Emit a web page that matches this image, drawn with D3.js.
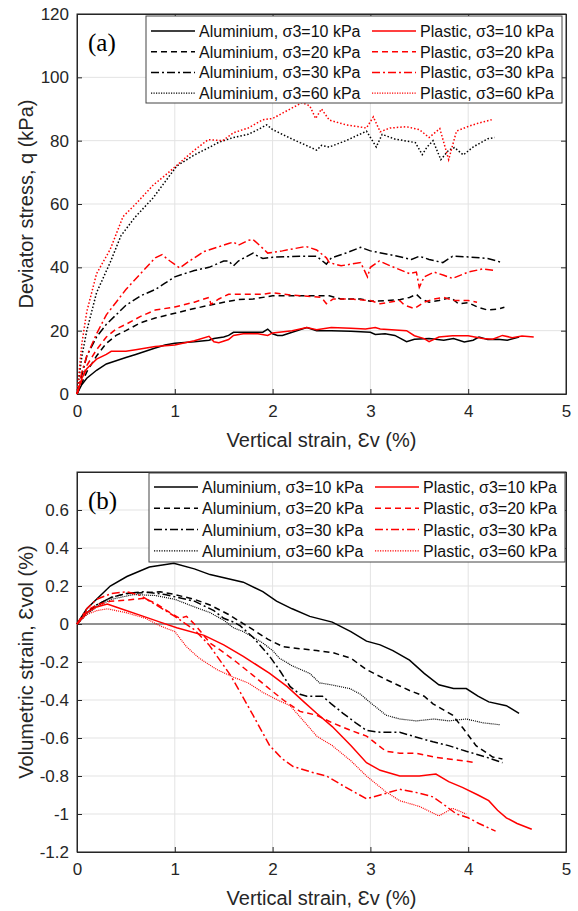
<!DOCTYPE html>
<html>
<head>
<meta charset="utf-8">
<script src="https://cdn.jsdelivr.net/npm/d3@7"></script>
<style>
body{margin:0;background:#fff}
svg{display:block}
</style>
</head>
<body>
<div id="chart"></div>
<script>
// ---- data: [vertical strain %, value] ----
const alu10q = [[0,0],[0.05,3],[0.1,5],[0.2,7.5],[0.3,9.5],[0.4,10.5],[0.5,11.5],[0.6,12.5],[0.8,14.5],[0.9,15.5],[1.0,16],[1.2,16.5],[1.35,17],[1.4,17.5],[1.5,18],[1.55,18.5],[1.6,19.5],[1.8,19.5],[1.9,19.5],[1.95,20.5],[2.0,19],[2.05,18.5],[2.1,18.5],[2.2,19.5],[2.35,21],[2.45,20],[2.6,20],[2.8,19.8],[3.0,19.5],[3.05,18.8],[3.15,19],[3.25,18.5],[3.37,16.5],[3.45,17.3],[3.6,17.5],[3.75,17],[3.85,17.5],[3.96,16.4],[4.05,17],[4.11,18],[4.2,17.2],[4.3,17.3],[4.4,17],[4.52,18]]
const alu20q = [[0,0],[0.1,7],[0.2,12],[0.3,16],[0.4,18.5],[0.5,20],[0.65,22.5],[0.8,24],[1.0,25.5],[1.2,27],[1.35,28],[1.5,29],[1.65,29.8],[1.8,30],[2.0,31],[2.2,31],[2.4,31],[2.58,31],[2.7,30],[2.9,30],[3.0,29.3],[3.15,29.5],[3.3,29.8],[3.4,30.5],[3.47,31.5],[3.52,30],[3.6,29],[3.7,29.5],[3.82,30.5],[3.9,28.5],[4.0,28.8],[4.1,27.4],[4.2,26.5],[4.3,26.8],[4.37,27.4]]
const alu30q = [[0,0],[0.05,6],[0.1,12],[0.2,18],[0.3,22],[0.4,25],[0.5,28],[0.65,31],[0.8,33],[0.9,35],[1.0,37],[1.2,39],[1.35,40],[1.5,42],[1.55,42],[1.6,40.5],[1.65,42],[1.8,44.5],[1.85,43.5],[1.9,42.8],[2.0,43.2],[2.3,43.5],[2.45,43.5],[2.55,41],[2.6,43],[2.75,44.5],[2.9,46.3],[3.0,45.2],[3.2,44],[3.42,42.5],[3.5,43.5],[3.6,42.5],[3.74,41.5],[3.84,43.5],[4.0,43.3],[4.2,42.8],[4.35,41.5]]
const alu60q = [[0,0],[0.05,12],[0.1,20],[0.2,32],[0.34,41.6],[0.45,50],[0.59,55.7],[0.78,62],[0.9,67],[1.02,72],[1.2,75.5],[1.36,78],[1.45,79.5],[1.6,81],[1.75,82],[1.85,83.5],[1.94,85],[2.0,83.5],[2.2,80.5],[2.38,78],[2.45,77],[2.5,78.5],[2.58,78],[2.75,80],[2.96,83],[3.0,81],[3.06,78],[3.12,82],[3.25,80.5],[3.46,79.4],[3.53,75.6],[3.58,78],[3.64,80],[3.72,74],[3.8,77],[3.86,77.8],[3.95,75.5],[4.05,78],[4.2,80.6],[4.27,81]]
const pl10q = [[0,0],[0.05,5],[0.1,8],[0.2,11],[0.3,12.5],[0.35,13.5],[0.5,13.5],[0.6,14],[0.8,15],[1.0,15.5],[1.2,16.8],[1.35,18.2],[1.4,16.5],[1.45,16.2],[1.55,17.2],[1.6,18.5],[1.7,19],[1.85,19],[1.95,18.5],[2.0,19.3],[2.2,20],[2.35,21],[2.45,20.3],[2.6,21],[2.8,20.8],[2.95,20.5],[3.05,21],[3.1,20.5],[3.37,20],[3.45,18.4],[3.55,17.5],[3.6,16.5],[3.7,18],[3.84,18.4],[4.0,18.4],[4.15,17.5],[4.25,17.3],[4.35,18.5],[4.45,17.8],[4.55,18.3],[4.67,18]]
const pl20q = [[0,0],[0.1,9],[0.2,14],[0.3,18],[0.4,20.5],[0.5,22],[0.65,24.5],[0.8,26.5],[1.0,27.5],[1.2,29],[1.35,30.5],[1.37,28.3],[1.45,30],[1.55,31.5],[1.7,31.5],[1.9,31.5],[2.0,32],[2.2,31.2],[2.4,30.8],[2.5,30.5],[2.55,28.5],[2.62,30],[2.8,30],[3.0,29.5],[3.1,28.5],[3.3,29.5],[3.35,28],[3.45,27],[3.55,29],[3.65,30],[3.75,30.5],[3.85,29.5],[4.0,29.5],[4.09,29]]
const pl30q = [[0,0],[0.05,7],[0.1,12],[0.2,19],[0.3,25],[0.4,29],[0.5,33],[0.65,38],[0.8,43],[0.87,44],[0.95,42],[1.05,39.8],[1.15,42],[1.3,45],[1.45,46.5],[1.55,47.5],[1.6,48],[1.65,47],[1.75,48.5],[1.8,48.8],[1.9,46],[1.95,44.5],[2.1,45.2],[2.34,46.6],[2.45,45.5],[2.55,43],[2.58,41.5],[2.7,40.5],[2.9,41.5],[2.97,37],[3.0,40],[3.09,42],[3.2,40.5],[3.4,38],[3.47,38.5],[3.5,33.7],[3.55,37],[3.65,38.5],[3.75,37.5],[3.84,36.5],[4.0,38.5],[4.15,39.5],[4.27,39]]
const pl60q = [[0,0],[0.05,16],[0.1,26],[0.2,38],[0.34,45.7],[0.47,56],[0.6,60],[0.78,66],[0.9,69],[1.05,73],[1.2,77],[1.34,80.3],[1.49,80],[1.6,82.5],[1.75,84],[1.9,86.6],[2.0,87],[2.15,89.5],[2.3,92],[2.38,91],[2.44,87],[2.5,90],[2.58,86.5],[2.75,85],[2.96,84],[3.03,87.5],[3.1,82.8],[3.2,84],[3.37,84.4],[3.5,83.5],[3.6,81],[3.71,83.8],[3.8,74],[3.88,83],[4.0,84.5],[4.1,85.5],[4.24,86.6]]

const alu10v = [[0,0],[0.1,0.08],[0.2,0.13],[0.34,0.2],[0.51,0.25],[0.74,0.3],[0.99,0.32],[1.2,0.29],[1.36,0.26],[1.7,0.22],[1.9,0.17],[2.04,0.12],[2.2,0.08],[2.38,0.04],[2.61,0.01],[2.8,-0.04],[2.96,-0.09],[3.1,-0.11],[3.23,-0.14],[3.4,-0.19],[3.55,-0.26],[3.7,-0.32],[3.85,-0.34],[3.98,-0.34],[4.1,-0.38],[4.21,-0.41],[4.39,-0.43],[4.52,-0.47]]
const alu20v = [[0,0],[0.1,0.06],[0.2,0.1],[0.35,0.14],[0.5,0.16],[0.7,0.165],[0.85,0.17],[1.0,0.155],[1.2,0.13],[1.36,0.1],[1.55,0.05],[1.8,-0.03],[1.95,-0.08],[2.11,-0.12],[2.28,-0.13],[2.45,-0.14],[2.61,-0.15],[2.8,-0.18],[2.96,-0.24],[3.15,-0.29],[3.4,-0.35],[3.55,-0.38],[3.64,-0.42],[3.84,-0.48],[3.95,-0.55],[4.08,-0.64],[4.25,-0.7],[4.35,-0.71]]
const alu30v = [[0,0],[0.1,0.06],[0.2,0.1],[0.35,0.14],[0.5,0.16],[0.68,0.17],[0.9,0.155],[1.2,0.12],[1.4,0.07],[1.5,0.03],[1.6,0.01],[1.67,-0.01],[1.8,-0.07],[1.97,-0.17],[2.08,-0.25],[2.18,-0.33],[2.28,-0.37],[2.35,-0.38],[2.51,-0.38],[2.6,-0.42],[2.72,-0.47],[2.85,-0.52],[2.96,-0.56],[3.1,-0.57],[3.3,-0.57],[3.5,-0.6],[3.64,-0.62],[3.8,-0.64],[3.98,-0.67],[4.18,-0.7],[4.35,-0.73]]
const alu60v = [[0,0],[0.1,0.05],[0.2,0.09],[0.35,0.13],[0.58,0.155],[0.8,0.15],[1.0,0.13],[1.2,0.09],[1.36,0.06],[1.5,0.02],[1.6,-0.02],[1.7,-0.04],[1.9,-0.1],[2.0,-0.14],[2.07,-0.18],[2.2,-0.22],[2.38,-0.26],[2.48,-0.31],[2.6,-0.32],[2.79,-0.34],[2.9,-0.37],[2.99,-0.41],[3.16,-0.48],[3.3,-0.5],[3.47,-0.51],[3.65,-0.5],[3.8,-0.51],[3.98,-0.5],[4.15,-0.52],[4.32,-0.53]]
const pl10v = [[0,0],[0.1,0.06],[0.2,0.09],[0.31,0.105],[0.45,0.08],[0.68,0.04],[0.85,0.01],[1.02,-0.02],[1.3,-0.06],[1.5,-0.11],[1.7,-0.17],[1.97,-0.26],[2.15,-0.33],[2.32,-0.41],[2.45,-0.47],[2.61,-0.54],[2.8,-0.64],[2.96,-0.73],[3.1,-0.77],[3.3,-0.8],[3.5,-0.8],[3.67,-0.79],[3.8,-0.83],[3.94,-0.86],[4.1,-0.9],[4.21,-0.93],[4.3,-0.98],[4.39,-1.02],[4.5,-1.05],[4.65,-1.08]]
const pl20v = [[0,0],[0.1,0.07],[0.2,0.1],[0.34,0.12],[0.5,0.125],[0.68,0.135],[0.8,0.11],[0.95,0.06],[1.05,0.03],[1.12,0.04],[1.2,0.0],[1.36,-0.1],[1.5,-0.15],[1.63,-0.2],[1.8,-0.27],[1.94,-0.33],[2.11,-0.4],[2.28,-0.46],[2.45,-0.48],[2.61,-0.52],[2.8,-0.56],[2.96,-0.59],[3.16,-0.67],[3.3,-0.68],[3.47,-0.68],[3.65,-0.7],[3.8,-0.71],[3.95,-0.72],[4.08,-0.73]]
const pl30v = [[0,0],[0.1,0.08],[0.2,0.13],[0.35,0.16],[0.51,0.17],[0.65,0.15],[0.81,0.1],[1.0,0.04],[1.2,-0.03],[1.35,-0.11],[1.46,-0.19],[1.57,-0.27],[1.67,-0.36],[1.8,-0.48],[1.97,-0.64],[2.1,-0.71],[2.21,-0.75],[2.4,-0.78],[2.55,-0.8],[2.75,-0.86],[2.96,-0.92],[3.1,-0.9],[3.3,-0.87],[3.5,-0.89],[3.64,-0.91],[3.75,-0.95],[3.88,-1.0],[4.0,-1.02],[4.11,-1.05],[4.28,-1.09]]
const pl60v = [[0,0],[0.1,0.05],[0.2,0.07],[0.31,0.08],[0.5,0.06],[0.7,0.03],[0.85,-0.01],[1.0,-0.04],[1.12,-0.12],[1.25,-0.18],[1.43,-0.24],[1.6,-0.28],[1.75,-0.31],[1.9,-0.36],[2.05,-0.4],[2.18,-0.43],[2.3,-0.5],[2.45,-0.59],[2.61,-0.64],[2.8,-0.72],[2.96,-0.8],[3.15,-0.88],[3.3,-0.93],[3.5,-0.96],[3.7,-1.01],[3.84,-0.97],[3.98,-1.0]]

const legendLabels = ["Aluminium, σ3=10 kPa","Aluminium, σ3=20 kPa","Aluminium, σ3=30 kPa","Aluminium, σ3=60 kPa",
                      "Plastic, σ3=10 kPa","Plastic, σ3=20 kPa","Plastic, σ3=30 kPa","Plastic, σ3=60 kPa"]
const lineKinds = ["solid","dashed","dashdot","dotted","solid","dashed","dashdot","dotted"]
const lineColors = ["#000","#000","#000","#000","#ff0000","#ff0000","#ff0000","#ff0000"]
const xTicks = [0,1,2,3,4,5]
const qTicks = [0,20,40,60,80,100,120]
const vTicks = [-1.2,-1,-0.8,-0.6,-0.4,-0.2,0,0.2,0.4,0.6]

const W = 578, H = 911
const font = "'Liberation Sans', Arial, sans-serif"
const axisColor = "#262626"
const dashes = {solid: null, dashed: "6,4", dashdot: "8,3,2,3", dotted: "1.5,2"}

const svg = d3.select('#chart').append('svg')
    .attr('width', W).attr('height', H)

function drawPanel(cfg) {
    let x = d3.scaleLinear().domain([0,5]).range([77,566])
    let y = d3.scaleLinear().domain(cfg.yDomain).range([cfg.bottom, cfg.top])
    let g = svg.append('g')

    // grid
    g.append('g').selectAll('line').data(xTicks.slice(1,-1)).join('line')
        .attr('x1', d => x(d)).attr('x2', d => x(d))
        .attr('y1', cfg.top).attr('y2', cfg.bottom)
        .attr('stroke', '#e3e3e3').attr('stroke-width', 1)
    g.append('g').selectAll('line').data(cfg.yTicks).join('line')
        .attr('x1', 77).attr('x2', 566)
        .attr('y1', d => y(d)).attr('y2', d => y(d))
        .attr('stroke', '#e3e3e3').attr('stroke-width', 1)

    // axes (ticks inward, MATLAB box style)
    g.append('g').attr('transform', `translate(0,${cfg.bottom})`)
        .call(d3.axisBottom(x).tickValues(xTicks).tickFormat(d3.format('d')).tickSizeInner(-5).tickSizeOuter(0).tickPadding(11))
    g.append('g').attr('transform', `translate(77,0)`)
        .call(d3.axisLeft(y).tickValues(cfg.yTicks).tickFormat(d => String(+d.toFixed(1))).tickSizeInner(-5).tickSizeOuter(0).tickPadding(8))
    g.append('g').attr('transform', `translate(0,${cfg.top})`)
        .call(d3.axisTop(x).tickValues(xTicks).tickSizeInner(-5).tickSizeOuter(0).tickFormat(''))
    g.append('g').attr('transform', `translate(566,0)`)
        .call(d3.axisRight(y).tickValues(cfg.yTicks).tickSizeInner(-5).tickSizeOuter(0).tickFormat(''))
    g.selectAll('.domain').attr('stroke', axisColor)
    g.selectAll('.tick line').attr('stroke', axisColor)
    g.selectAll('.tick text').attr('fill', axisColor).attr('font-family', font).attr('font-size', 17)
    g.append('rect').attr('x', 77).attr('y', cfg.top).attr('width', 566-77).attr('height', cfg.bottom-cfg.top)
        .attr('fill', 'none').attr('stroke', axisColor).attr('stroke-width', 1)

    if (cfg.zeroLine) {
        g.append('line').attr('x1', x(0)).attr('x2', x(5)).attr('y1', y(0)).attr('y2', y(0))
            .attr('stroke', '#333').attr('stroke-width', 1.2)
    }

    // data lines
    let line = d3.line().x(d => x(d[0])).y(d => y(d[1]))
    g.append('g').selectAll('path').data(cfg.series).join('path')
        .attr('d', line)
        .attr('fill', 'none')
        .attr('stroke', (d,i) => lineColors[i])
        .attr('stroke-width', (d,i) => lineKinds[i] == 'dotted' ? cfg.dotWidth : 1.5)
        .attr('stroke-dasharray', (d,i) => lineKinds[i] == 'dotted' ? cfg.dotDash : dashes[lineKinds[i]])

    // axis titles
    g.append('text').text('Vertical strain, Ɛv (%)')
        .attr('x', (77+566)/2).attr('y', cfg.bottom + cfg.xTitleOff)
        .attr('text-anchor', 'middle').attr('font-family', font).attr('font-size', 20).attr('fill', axisColor)
    g.append('text').text(cfg.yTitle)
        .attr('transform', `translate(33,${(cfg.top+cfg.bottom)/2}) rotate(-90)`)
        .attr('text-anchor', 'middle').attr('font-family', font).attr('font-size', 20).attr('fill', axisColor)

    // panel letter
    g.append('text').text(cfg.label)
        .attr('x', 88).attr('y', cfg.top + 37)
        .attr('font-family', "'Liberation Serif', 'Times New Roman', serif").attr('font-size', 25).attr('fill', '#000')

    // legend
    let lg = g.append('g').attr('transform', `translate(${cfg.legend.x},${cfg.legend.y})`)
    lg.append('rect').attr('width', 416).attr('height', cfg.legend.h)
        .attr('fill', '#fff').attr('stroke', '#444').attr('stroke-width', 1)
    let items = lg.selectAll('.item').data(legendLabels).join('g').attr('class', 'item')
        .attr('transform', (d,i) => `translate(${i < 4 ? 5 : 226},${cfg.legend.row0 + (i % 4) * cfg.legend.step})`)
    items.append('line').attr('x1', 0).attr('x2', 44).attr('y1', 0).attr('y2', 0)
        .attr('stroke', (d,i) => lineColors[i])
        .attr('stroke-width', (d,i) => lineKinds[i] == 'dotted' ? 1.2 : 1.5)
        .attr('stroke-dasharray', (d,i) => lineKinds[i] == 'dotted' ? '1.2,1.3' : dashes[lineKinds[i]])
    items.append('text').text(d => d)
        .attr('x', 48).attr('y', 6)
        .attr('font-family', font).attr('font-size', 16).attr('fill', '#111')
}

drawPanel({
    top: 14, bottom: 394, yDomain: [0,120], yTicks: qTicks,
    series: [alu10q, alu20q, alu30q, alu60q, pl10q, pl20q, pl30q, pl60q],
    yTitle: 'Deviator stress, q (kPa)', label: '(a)', xTitleOff: 53,
    dotWidth: 1.5, dotDash: '1.5,2',
    legend: {x: 146, y: 16, h: 87, row0: 15, step: 20.7}
})

drawPanel({
    top: 472, bottom: 852, yDomain: [-1.2,0.8], yTicks: vTicks,
    series: [alu10v, alu20v, alu30v, alu60v, pl10v, pl20v, pl30v, pl60v],
    yTitle: 'Volumetric strain, Ɛvol (%)', label: '(b)', xTitleOff: 53, zeroLine: true,
    dotWidth: 1.2, dotDash: '1,1',
    legend: {x: 149, y: 473, h: 89, row0: 14, step: 21.3}
})
</script>
</body>
</html>
